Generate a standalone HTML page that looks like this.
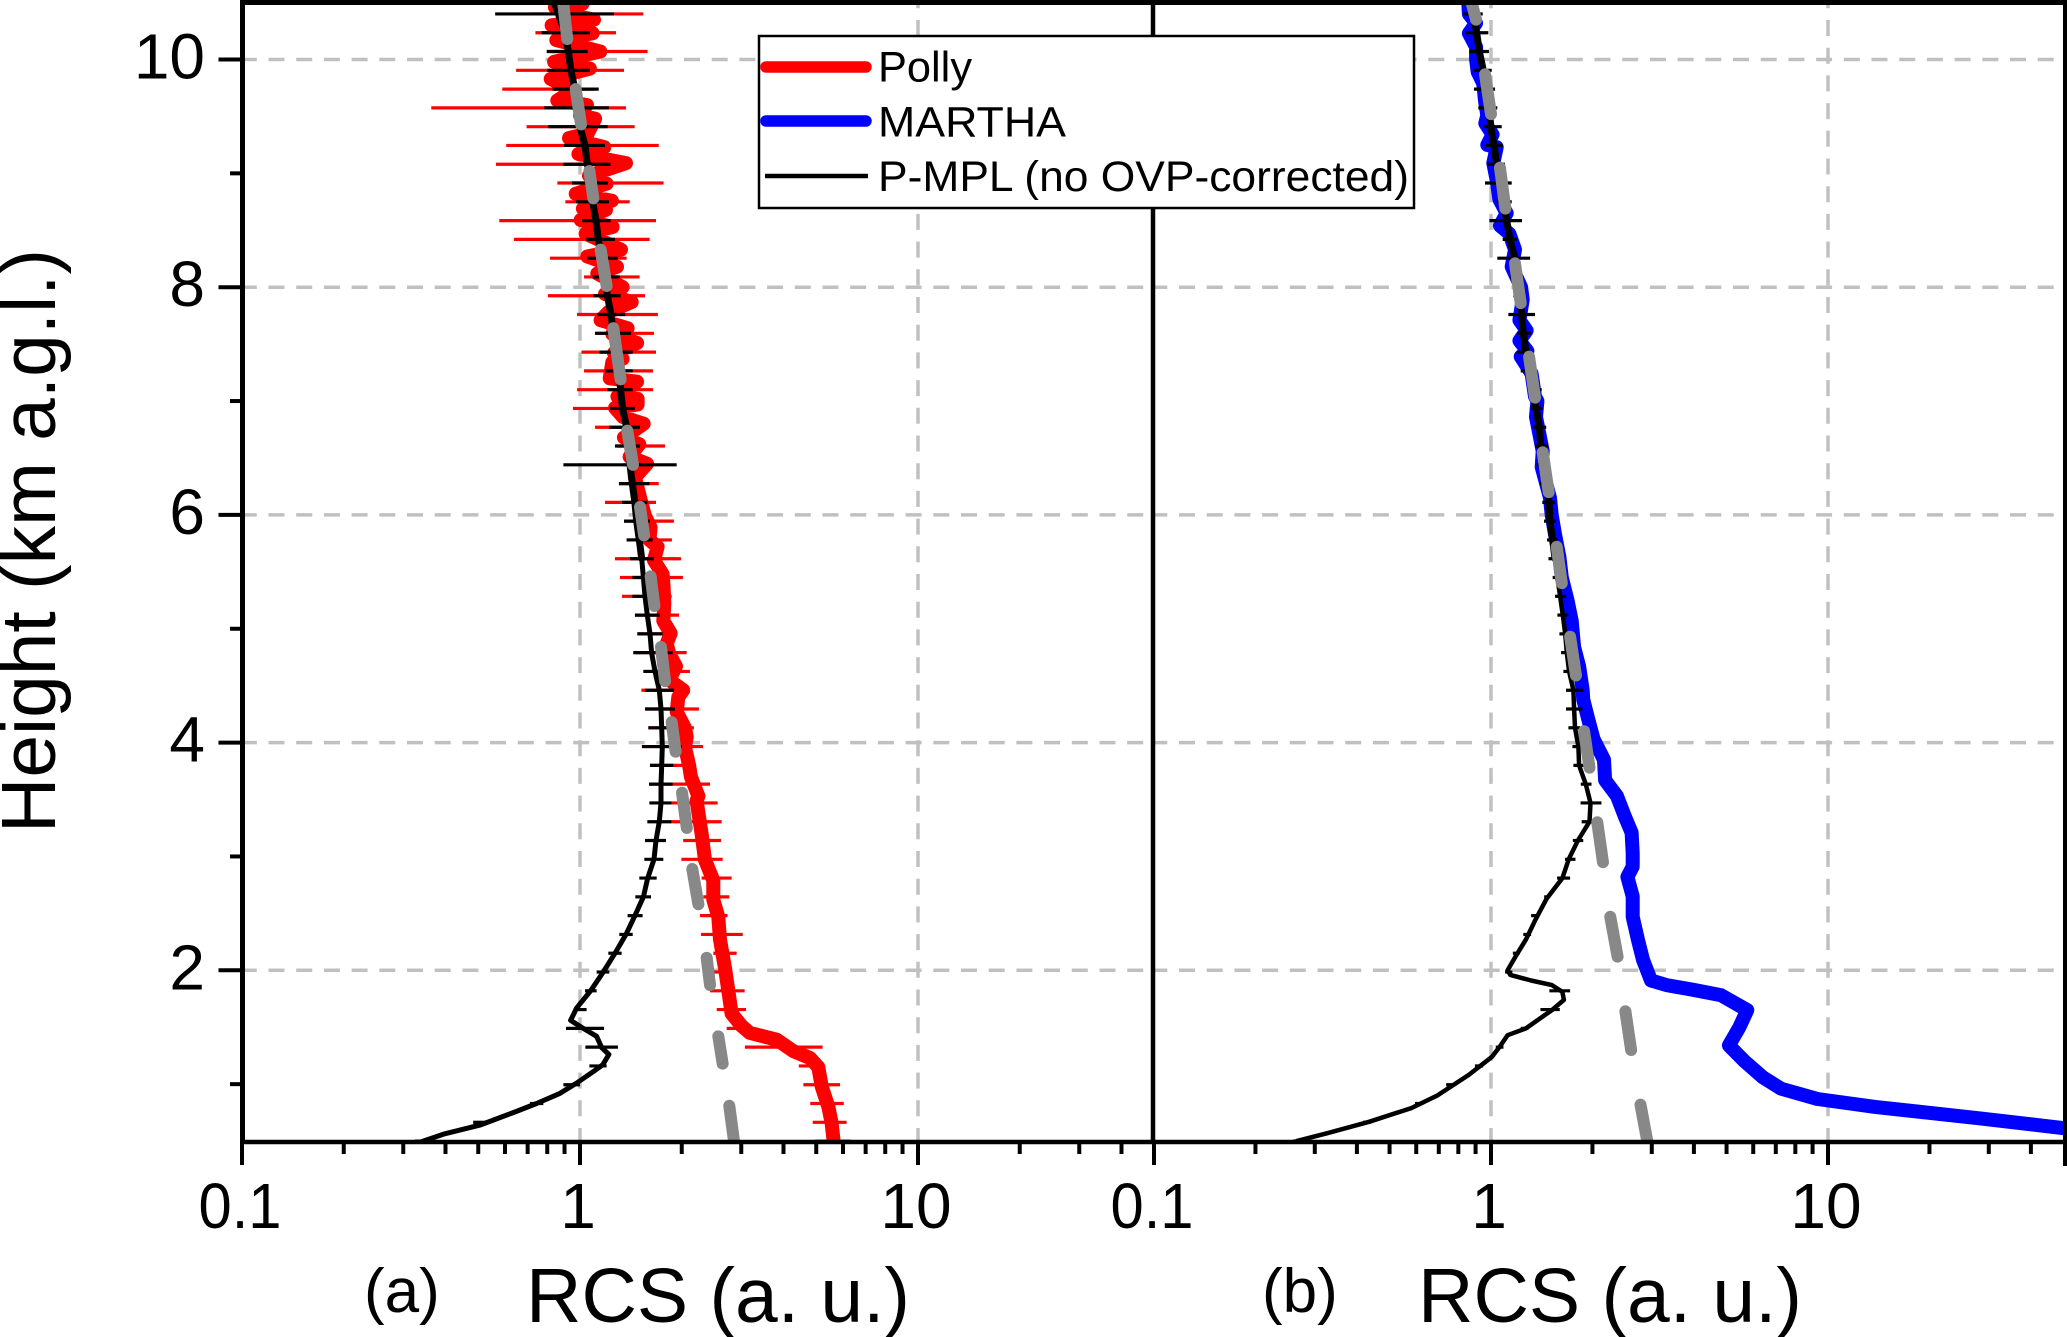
<!DOCTYPE html>
<html lang="en">
<head>
<meta charset="utf-8">
<title>RCS profiles: Polly, MARTHA, P-MPL</title>
<style>
html,body{margin:0;padding:0;background:#fff;}
svg{display:block;}
text{font-family:"Liberation Sans",sans-serif;fill:#000;}
</style>
</head>
<body>
<svg id="chart" xmlns="http://www.w3.org/2000/svg" width="2067" height="1337" viewBox="0 0 2067 1337">
  <defs>
    <clipPath id="clipA"><rect x="243" y="0" width="910" height="1142"/></clipPath>
    <clipPath id="clipB"><rect x="1153" y="0" width="912" height="1142"/></clipPath>
  </defs>
  <rect x="0" y="0" width="2067" height="1337" fill="#fff"/>
  <g id="gridLayer"></g>
  <g id="panelA" clip-path="url(#clipA)"></g>
  <g id="panelB" clip-path="url(#clipB)"></g>
  <g id="axisLayer"></g>
  <text transform="translate(55,833) rotate(-90)" font-size="77" textLength="584" lengthAdjust="spacingAndGlyphs">Height (km a.g.l.)</text>
  <text x="364" y="1312" font-size="62">(a)</text>
  <text x="526" y="1322" font-size="77" textLength="384" lengthAdjust="spacingAndGlyphs">RCS (a. u.)</text>
  <text x="1262" y="1312" font-size="62">(b)</text>
  <text x="1418" y="1322" font-size="77" textLength="384" lengthAdjust="spacingAndGlyphs">RCS (a. u.)</text>
  <g>
    <rect x="759" y="36" width="655" height="172" fill="#fff" stroke="#000" stroke-width="2.5"/>
    <line x1="766" y1="67" x2="866" y2="67" stroke="#ff0000" stroke-width="11.5" stroke-linecap="round"/>
    <text x="878" y="81.5" font-size="43" textLength="94" lengthAdjust="spacingAndGlyphs">Polly</text>
    <line x1="766" y1="121" x2="866" y2="121" stroke="#0000ff" stroke-width="11.5" stroke-linecap="round"/>
    <text x="878" y="136.5" font-size="43" textLength="188" lengthAdjust="spacingAndGlyphs">MARTHA</text>
    <line x1="765" y1="176" x2="868" y2="176" stroke="#000" stroke-width="4.5"/>
    <text x="878" y="191" font-size="43" textLength="531" lengthAdjust="spacingAndGlyphs">P-MPL (no OVP-corrected)</text>
  </g>
</svg>
<script>
/* ---------- tick / label data ---------- */
const yMajorTicks = [2, 4, 6, 8, 10];
const yMinorTicks = [1, 3, 5, 7, 9];
const xMajorTicks = [0.1, 1, 10];
const xMinorTicks = [0.2,0.3,0.4,0.5,0.6,0.7,0.8,0.9,2,3,4,5,6,7,8,9,20,30,40];
const xMajorLabels = ["0.1", "1", "10"];
const yMajorLabels = ["2", "4", "6", "8", "10"];
const xGridValues = [1, 10];
const yGridValues = [2, 4, 6, 8, 10];

/* ---------- error-bar heights (km) shared by all instruments ---------- */
const barHeights = [0.50,0.665,0.83,0.995,1.16,1.325,1.49,1.655,1.82,1.985,2.15,2.315,2.48,2.645,2.81,2.975,3.14,3.305,3.47,3.635,3.80,3.965,4.13,4.295,4.46,4.625,4.79,4.955,5.12,5.285,5.45,5.615,5.78,5.945,6.11,6.275,6.44,6.605,6.77,6.935,7.10,7.265,7.43,7.595,7.76,7.925,8.09,8.255,8.42,8.585,8.75,8.915,9.08,9.245,9.41,9.575,9.74,9.905,10.07,10.235,10.40];

/* ---------- Polly (panel a) ---------- */
const pollyHeights = [10.52,10.49,10.46,10.40,10.35,10.30,10.23,10.17,10.07,9.98,9.92,9.83,9.73,9.64,9.60,9.51,9.48,9.35,9.31,9.23,9.17,9.09,8.98,8.91,8.82,8.76,8.69,8.68,8.59,8.53,8.47,8.33,8.27,8.18,8.12,8.00,7.94,7.87,7.78,7.71,7.64,7.59,7.51,7.42,7.37,7.34,7.20,7.17,7.04,7.02,6.97,6.94,6.86,6.80,6.68,6.62,6.51,6.45,6.33,6.13,5.99,5.89,5.78,5.72,5.60,5.48,5.37,5.22,5.07,4.96,4.87,4.78,4.67,4.55,4.46,4.40,4.27,4.13,4.05,3.96,3.86,3.79,3.70,3.53,3.49,3.20,2.97,2.79,2.62,2.47,2.27,2.03,1.83,1.62,1.51,1.45,1.39,1.29,1.23,1.15,0.98,0.80,0.66,0.48];
const pollyRcs = [0.977,1.018,0.843,0.913,1.10,0.824,1.09,0.851,1.149,0.838,1.07,0.819,0.956,0.857,1.049,1.00,1.108,1.054,0.928,1.18,0.989,1.368,1.063,1.199,0.971,1.243,1.02,1.194,1.005,1.249,1.039,1.322,1.051,1.287,1.125,1.337,1.186,1.422,1.213,1.151,1.383,1.246,1.475,1.261,1.337,1.246,1.224,1.475,1.29,1.481,1.481,1.269,1.34,1.543,1.349,1.498,1.402,1.579,1.454,1.512,1.557,1.618,1.604,1.697,1.655,1.756,1.768,1.776,1.764,1.855,1.805,1.838,1.923,1.838,2.02,1.953,1.932,2.044,2.068,2.044,2.082,2.105,2.129,2.24,2.213,2.29,2.343,2.48,2.48,2.566,2.595,2.682,2.745,2.809,3.01,3.18,3.82,4.28,4.79,5.07,5.19,5.43,5.55,5.64];
const pollyLow = [4.96,4.88,4.80,4.58,4.44,3.075,2.716,2.538,2.425,2.48,2.48,2.281,2.265,2.317,2.29,1.995,2.02,1.867,1.867,1.6,1.611,1.525,1.593,1.557,1.519,1.54,1.438,1.478,1.454,1.331,1.313,1.269,1.374,1.35,1.186,1.304,1.343,1.284,1.108,0.953,0.98,1.028,1.01,1.11,0.98,0.804,1.028,0.815,0.638,0.577,0.905,0.857,0.564,0.605,0.695,0.363,0.589,0.647,0.815,0.738,0.711];
const pollyHigh = [6.33,6.15,6.03,5.88,5.25,5.22,3.11,3.098,3.07,2.745,2.907,3.03,2.733,2.765,2.809,2.643,2.613,2.625,2.554,2.425,2.204,2.312,2.173,2.248,1.888,2.114,2.068,1.932,1.963,1.867,2.016,1.99,1.87,1.896,1.678,1.71,1.648,1.784,1.505,1.505,1.644,1.644,1.678,1.655,1.70,1.557,1.501,1.374,1.607,1.678,1.403,1.767,1.422,1.71,1.451,1.368,1.095,1.35,1.585,1.278,1.539];

/* ---------- P-MPL seen in panel a ---------- */
const mplAHeights = [0.49,0.56,0.64,0.75,0.83,0.92,1.01,1.11,1.17,1.26,1.32,1.42,1.49,1.56,1.67,1.82,1.985,2.15,2.315,2.48,2.645,2.81,2.975,3.14,3.305,3.47,3.635,3.80,3.965,4.13,4.295,4.46,4.625,4.79,4.955,5.12,5.285,5.45,5.615,5.78,5.945,6.11,6.275,6.44,6.605,6.77,6.935,7.10,7.265,7.43,7.595,7.76,7.925,8.09,8.255,8.42,8.585,8.75,8.915,9.08,9.245,9.41,9.575,9.74,9.905,10.07,10.235,10.40,10.565];
const mplARcs = [0.336,0.394,0.506,0.635,0.744,0.873,0.978,1.095,1.167,1.218,1.159,1.12,1.023,0.938,0.978,1.075,1.172,1.269,1.368,1.454,1.54,1.586,1.655,1.678,1.716,1.736,1.736,1.745,1.752,1.745,1.736,1.716,1.667,1.629,1.611,1.582,1.557,1.54,1.522,1.498,1.471,1.454,1.428,1.406,1.383,1.374,1.337,1.319,1.304,1.284,1.255,1.235,1.205,1.186,1.159,1.133,1.115,1.09,1.083,1.051,1.035,1,0.978,0.966,0.94,0.924,0.903,0.863,0.824];
const mplALow = [0.325,0.483,0.711,0.893,1.066,1.037,0.909,0.966,1.035,1.12,1.213,1.307,1.383,1.458,1.498,1.55,1.557,1.582,1.604,1.6,1.611,1.525,1.593,1.557,1.557,1.54,1.438,1.478,1.454,1.428,1.428,1.406,1.374,1.35,1.331,1.304,0.893,1.269,1.218,1.227,1.205,1.188,1.141,1.108,1.125,1.095,1.09,1.051,1.044,1.014,0.973,0.947,0.893,0.897,0.806,0.784,0.83,0.80,0.797,0.77,0.561];
const mplAHigh = [0.356,0.53,0.779,1.0,1.199,1.295,1.178,1.046,1.12,1.221,1.328,1.432,1.532,1.622,1.686,1.764,1.796,1.867,1.867,1.88,1.888,1.998,1.888,1.909,1.896,1.805,1.88,1.756,1.725,1.648,1.629,1.655,1.64,1.611,1.582,1.604,1.932,1.505,1.505,1.454,1.432,1.432,1.432,1.416,1.359,1.319,1.313,1.293,1.269,1.232,1.218,1.21,1.232,1.186,1.207,1.218,1.136,1.07,1.054,1.07,1.261];

/* ---------- MARTHA (panel b) ---------- */
const marthaHeights = [10.52,10.40,10.32,10.23,10.11,10.0,9.89,9.79,9.64,9.51,9.44,9.34,9.25,9.23,9.09,8.94,8.77,8.65,8.54,8.47,8.33,8.18,8.00,7.89,7.71,7.62,7.53,7.44,7.39,7.24,7.04,7.0,6.86,6.71,6.56,6.42,6.15,6.0,5.83,5.63,5.45,5.25,5.07,4.84,4.67,4.46,4.38,4.20,4.03,3.85,3.67,3.53,3.35,3.21,3.03,2.91,2.82,2.65,2.47,2.27,2.09,1.91,1.87,1.83,1.78,1.65,1.50,1.34,1.20,1.06,0.96,0.87,0.80,0.70,0.61];
const marthaRcs = [0.856,0.86,0.903,0.86,0.903,0.903,0.913,0.949,0.96,0.975,0.962,1.011,0.975,1.04,1.016,1.04,1.059,1.113,1.063,1.134,1.178,1.152,1.228,1.242,1.214,1.276,1.214,1.282,1.225,1.32,1.351,1.373,1.36,1.392,1.424,1.414,1.497,1.514,1.549,1.596,1.622,1.686,1.736,1.764,1.826,1.871,1.878,1.946,2.016,2.165,2.18,2.366,2.496,2.614,2.633,2.633,2.54,2.633,2.633,2.728,2.827,2.983,3.318,3.964,4.82,5.76,5.46,5.08,5.66,6.41,7.26,9.31,13.8,28.1,51.4];

/* ---------- P-MPL seen in panel b ---------- */
const mplBHeights = [0.50,0.57,0.67,0.79,0.90,1.08,1.24,1.33,1.43,1.49,1.65,1.74,1.81,1.87,1.91,1.96,2.00,2.12,2.27,2.44,2.63,2.81,2.975,3.14,3.305,3.47,3.635,3.80,3.965,4.13,4.295,4.46,4.625,4.79,4.955,5.12,5.285,5.45,5.615,5.78,5.945,6.11,6.275,6.44,6.605,6.77,6.935,7.10,7.265,7.43,7.595,7.76,7.925,8.09,8.255,8.42,8.585,8.75,8.915,9.08,9.245,9.41,9.575,9.74,9.905,10.07,10.235,10.40,10.565];
const mplBRcs = [0.265,0.328,0.436,0.58,0.693,0.858,1.007,1.062,1.12,1.269,1.516,1.646,1.629,1.516,1.315,1.141,1.12,1.182,1.269,1.353,1.463,1.629,1.70,1.811,1.96,1.973,1.911,1.826,1.817,1.775,1.764,1.756,1.705,1.678,1.66,1.633,1.603,1.574,1.549,1.524,1.497,1.487,1.457,1.424,1.405,1.392,1.36,1.329,1.306,1.27,1.247,1.233,1.214,1.197,1.178,1.139,1.113,1.088,1.059,1.04,1.021,0.998,0.989,0.966,0.949,0.923,0.907,0.886,0.85];
const mplBLow = [0.258,0.417,0.595,0.736,0.896,1.033,1.225,1.402,1.49,1.101,1.161,1.247,1.315,1.438,1.571,1.658,1.749,1.858,1.844,1.847,1.756,1.744,1.697,1.67,1.67,1.64,1.614,1.596,1.574,1.549,1.524,1.481,1.467,1.437,1.42,1.398,1.367,1.351,1.336,1.312,1.291,1.225,1.192,1.197,1.126,1.165,1.139,1.044,1.083,0.989,1.04,0.96,0.977,0.966,0.949,0.917,0.89,0.89,0.862,0.837,0.828];
const mplBHigh = [0.272,0.44,0.627,0.776,0.948,1.089,1.292,1.6,1.717,1.157,1.216,1.315,1.392,1.49,1.717,1.781,1.878,2.09,2.127,1.987,1.888,1.879,1.838,1.867,1.879,1.775,1.736,1.716,1.697,1.67,1.622,1.585,1.577,1.56,1.549,1.514,1.464,1.475,1.458,1.424,1.414,1.373,1.321,1.312,1.351,1.262,1.247,1.306,1.192,1.236,1.152,1.152,1.1,1.083,1.076,1.044,1.028,1.005,0.986,0.982,0.945];

/* ---------- molecular reference profile, as start/end pairs of each dash ---------- */
const rayleighAHeights = [10.61,10.18,9.74,9.43,9.02,8.78,8.33,8.01,7.64,7.19,6.74,6.44,6.07,5.82,5.46,5.20,4.84,4.54,4.18,3.92,3.56,3.25,2.89,2.58,2.11,1.87,1.42,1.18,0.81,0.45];
const rayleighARcs = [0.883,0.917,0.971,1.007,1.066,1.095,1.151,1.199,1.255,1.319,1.38,1.435,1.505,1.547,1.618,1.66,1.736,1.785,1.867,1.918,2.004,2.07,2.149,2.24,2.37,2.425,2.566,2.643,2.765,2.87];
const rayleighBHeights = [10.61,10.35,9.87,9.52,9.05,8.69,8.21,7.86,7.39,7.03,6.55,6.20,5.72,5.40,4.93,4.59,4.10,3.78,3.30,2.95,2.47,2.12,1.64,1.30,0.82,0.45];
const rayleighBRcs = [0.856,0.903,0.96,1.0,1.063,1.103,1.178,1.225,1.297,1.351,1.424,1.483,1.567,1.622,1.717,1.787,1.889,1.96,2.067,2.149,2.259,2.375,2.505,2.605,2.777,2.93];

/* ---------- axis functions ---------- */
function yScale(h){ return 59.5 + (10 - h) * 113.85; }
function xScaleA(v){ return 580 + 338 * Math.log10(v); }
function xScaleB(v){ return 1491 + 337 * Math.log10(v); }

const NS = "http://www.w3.org/2000/svg";
const PLOT_TOP = 3, PLOT_BOTTOM = 1142, LEFT_A = 242.5, MID = 1153, RIGHT = 2065;
const HEAVY_ABOVE_KM = 5.5;

function newLine(parent, x1, y1, x2, y2, color, width){
  const el = document.createElementNS(NS, "line");
  el.setAttribute("x1", x1);
  el.setAttribute("y1", y1);
  el.setAttribute("x2", x2);
  el.setAttribute("y2", y2);
  el.setAttribute("stroke", color);
  el.setAttribute("stroke-width", width);
  parent.appendChild(el);
  return el;
}

function drawProfile(parent, name, heights, values, xFn, color, width, minHeight){
  const el = document.createElementNS(NS, "polyline");
  const pts = [];
  heights.forEach(function(h, i){
    if (h >= minHeight) { pts.push(xFn(values[i]).toFixed(1) + "," + yScale(h).toFixed(1)); }
  });
  el.setAttribute("points", pts.join(" "));
  el.setAttribute("fill", "none");
  el.setAttribute("stroke", color);
  el.setAttribute("stroke-width", width);
  el.setAttribute("stroke-linejoin", "round");
  el.setAttribute("stroke-linecap", "round");
  
  
  parent.appendChild(el);
}

function drawErrorBars(parent, name, low, high, xFn, color){
  const g = document.createElementNS(NS, "g");
  
  
  barHeights.forEach(function(h, i){
    const el = newLine(g, xFn(low[i]), yScale(h), xFn(high[i]), yScale(h), color, 3.2);
    
    
  });
  parent.appendChild(g);
}

function drawDashes(parent, name, heights, values, xFn){
  const g = document.createElementNS(NS, "g");
  
  
  for (let i = 0; i + 1 < heights.length; i += 2){
    const el = newLine(g, xFn(values[i]), yScale(heights[i]), xFn(values[i+1]), yScale(heights[i+1]), "#888888", 12);
    el.setAttribute("stroke-linecap", "round");
    
    
  }
  parent.appendChild(g);
}

/* ---------- grid ---------- */
const gridLayer = document.getElementById("gridLayer");
function gridStyle(el, offset){
  el.setAttribute("stroke-dasharray", "16 11.7");
  el.setAttribute("stroke-dashoffset", offset);
}
yGridValues.forEach(function(h){
  const a = newLine(gridLayer, LEFT_A, yScale(h), MID, yScale(h), "#c0c0c0", 3.5);
  gridStyle(a, 1.7);
  
  
  const b = newLine(gridLayer, MID, yScale(h), RIGHT, yScale(h), "#c0c0c0", 3.5);
  gridStyle(b, 1.7);
  
  
});
xGridValues.forEach(function(v){
  const a = newLine(gridLayer, xScaleA(v), PLOT_TOP, xScaleA(v), PLOT_BOTTOM, "#c0c0c0", 3.5);
  gridStyle(a, 10.7);
  
  
  const b = newLine(gridLayer, xScaleB(v), PLOT_TOP, xScaleB(v), PLOT_BOTTOM, "#c0c0c0", 3.5);
  gridStyle(b, 10.7);
  
  
});

/* ---------- series ---------- */
const panelA = document.getElementById("panelA");
const panelB = document.getElementById("panelB");
drawErrorBars(panelA, "polly-error-bars", pollyLow, pollyHigh, xScaleA, "#ff0000");
drawProfile(panelA, "polly-profile", pollyHeights, pollyRcs, xScaleA, "#ff0000", 14, 0);
drawErrorBars(panelA, "pmpl-error-bars-a", mplALow, mplAHigh, xScaleA, "#000000");
drawProfile(panelA, "pmpl-profile-a", mplAHeights, mplARcs, xScaleA, "#000000", 5, 0);
drawProfile(panelA, "pmpl-profile-a-upper", mplAHeights, mplARcs, xScaleA, "#000000", 7, HEAVY_ABOVE_KM);
drawDashes(panelA, "molecular-profile-a", rayleighAHeights, rayleighARcs, xScaleA);

drawProfile(panelB, "martha-profile", marthaHeights, marthaRcs, xScaleB, "#0000ff", 14, 0);
drawErrorBars(panelB, "pmpl-error-bars-b", mplBLow, mplBHigh, xScaleB, "#000000");
drawProfile(panelB, "pmpl-profile-b", mplBHeights, mplBRcs, xScaleB, "#000000", 4.5, 0);
drawProfile(panelB, "pmpl-profile-b-upper", mplBHeights, mplBRcs, xScaleB, "#000000", 7, HEAVY_ABOVE_KM);
drawDashes(panelB, "molecular-profile-b", rayleighBHeights, rayleighBRcs, xScaleB);

/* ---------- axes ---------- */
const axisLayer = document.getElementById("axisLayer");
function addSpine(x1, y1, x2, y2, width, name){
  const el = newLine(axisLayer, x1, y1, x2, y2, "#000", width);
  
  
}
addSpine(240, 2.5, 2067, 2.5, 5, "top-spine");
addSpine(LEFT_A, 0, LEFT_A, PLOT_BOTTOM + 2, 5, "left-spine");
addSpine(MID, 0, MID, 36, 4.5, "center-spine-upper");
addSpine(MID, 208, MID, PLOT_BOTTOM + 2, 4.5, "center-spine-lower");
addSpine(RIGHT, 0, RIGHT, PLOT_BOTTOM + 24, 4, "right-spine");
addSpine(LEFT_A, PLOT_BOTTOM, 2067, PLOT_BOTTOM, 4.5, "bottom-spine");

function addTick(x1, y1, x2, y2, name){
  const el = newLine(axisLayer, x1, y1, x2, y2, "#000", 4);
  
  
}
function addLabel(txt, x, y, anchor, name){
  const el = document.createElementNS(NS, "text");
  el.textContent = txt;
  el.setAttribute("x", x);
  el.setAttribute("y", y);
  el.setAttribute("font-size", "64");
  el.setAttribute("text-anchor", anchor);
  if (txt.length === 3){
    el.setAttribute("textLength", "83");
    el.setAttribute("lengthAdjust", "spacingAndGlyphs");
  }
  
  
  axisLayer.appendChild(el);
}

yMajorTicks.forEach(function(h, i){
  addTick(LEFT_A - 24, yScale(h), LEFT_A, yScale(h), "y-major-tick");
  addLabel(yMajorLabels[i], 205, yScale(h) + 19, "end", "y-tick-label");
});
yMinorTicks.forEach(function(h){
  addTick(LEFT_A - 12.5, yScale(h), LEFT_A, yScale(h), "y-minor-tick");
});
xMajorTicks.forEach(function(v, i){
  addTick(xScaleA(v), PLOT_BOTTOM, xScaleA(v), PLOT_BOTTOM + 23, "x-major-tick-a");
  addTick(xScaleB(v), PLOT_BOTTOM, xScaleB(v), PLOT_BOTTOM + 23, "x-major-tick-b");
  addLabel(xMajorLabels[i], xScaleA(v) - 2, 1228, "middle", "x-tick-label-a");
  addLabel(xMajorLabels[i], xScaleB(v) - 2, 1228, "middle", "x-tick-label-b");
});
xMinorTicks.forEach(function(v){
  addTick(xScaleA(v), PLOT_BOTTOM, xScaleA(v), PLOT_BOTTOM + 12, "x-minor-tick-a");
  addTick(xScaleB(v), PLOT_BOTTOM, xScaleB(v), PLOT_BOTTOM + 12, "x-minor-tick-b");
});
</script>
</body>
</html>
